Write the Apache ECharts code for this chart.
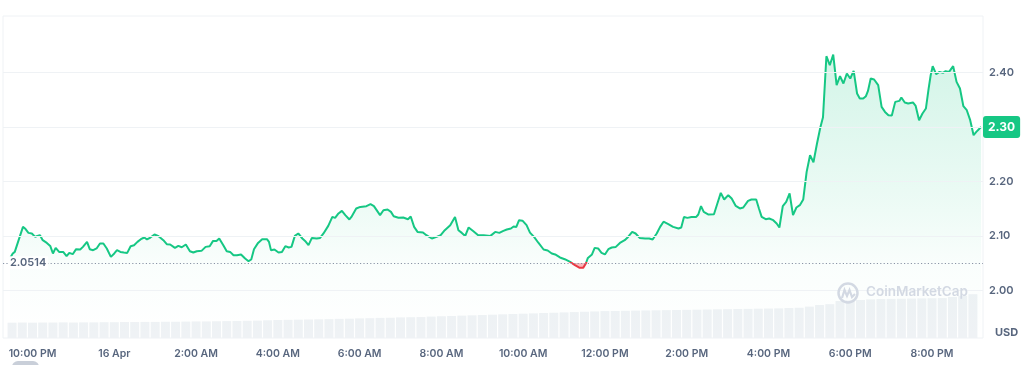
<!DOCTYPE html>
<html><head><meta charset="utf-8">
<script src="https://cdn.jsdelivr.net/npm/echarts@6/dist/echarts.min.js"></script>
<style>html,body{margin:0;padding:0;background:#fff}#c{width:1035px;height:365px}</style>
</head><body><div id="c"></div>
<script>
// time in minutes after 10:00 PM (15 Apr)
const priceTimes = [-33,-29,-26,-14,-11,-6,-1,4,7,11,15,21,26,30,34,39,45,50,54,59,64,70,74,80,84,89,94,99,104,109,115,120,124,129,134,139,144,149,154,159,164,168,173,179,185,192,197,202,209,214,219,225,231,236,241,248,254,260,265,270,274,280,285,290,295,300,306,312,317,321,325,331,337,344,347,350,355,361,366,371,376,380,385,390,396,400,405,410,417,422,427,434,440,444,449,454,459,465,468,475,481,490,496,501,510,515,521,526,530,537,544,551,555,560,565,573,578,586,593,599,605,613,620,625,630,635,640,647,654,662,672,679,685,691,696,702,706,710,714,719,725,730,736,742,750,756,762,767,774,781,789,796,803,808,812,815,821,825,830,835,840,845,850,856,862,869,874,880,885,891,899,905,910,916,921,926,933,940,948,952,956,961,967,974,977,981,985,992,1000,1005,1010,1015,1021,1026,1032,1038,1043,1050,1055,1062,1066,1070,1076,1081,1087,1092,1096,1101,1106,1111,1116,1121,1126,1131,1136,1141,1146,1151,1156,1160,1165,1170,1175,1180,1185,1190,1195,1200,1205,1210,1214,1219,1223,1226,1230,1235,1241,1246,1251,1256,1261,1266,1272,1275,1280,1285,1292,1296,1301,1306,1311,1315,1318,1321,1326,1331,1336,1340,1345,1351,1356,1361,1366,1371,1376,1381,1385,1392];
const priceValues = [2.0593,2.0679,2.0708,2.1167,2.1138,2.1057,2.1046,2.0983,2.1002,2.1015,2.0923,2.0873,2.0818,2.0679,2.0782,2.0708,2.0708,2.0629,2.0690,2.0666,2.0758,2.0752,2.0800,2.0892,2.0758,2.0739,2.0771,2.0862,2.0862,2.0771,2.0617,2.0679,2.0739,2.0708,2.0697,2.0690,2.0813,2.0831,2.0892,2.0941,2.0972,2.0936,2.0972,2.1028,2.0996,2.0923,2.0850,2.0844,2.0782,2.0818,2.0794,2.0844,2.0721,2.0697,2.0721,2.0727,2.0800,2.0813,2.0910,2.0910,2.0954,2.0831,2.0721,2.0708,2.0648,2.0648,2.0661,2.0587,2.0538,2.0569,2.0758,2.0873,2.0941,2.0941,2.0892,2.0739,2.0752,2.0697,2.0708,2.0813,2.0789,2.0800,2.1002,2.1046,2.0954,2.0910,2.0831,2.0965,2.0954,2.0965,2.1046,2.1185,2.1350,2.1332,2.1413,2.1461,2.1382,2.1303,2.1350,2.1505,2.1534,2.1547,2.1583,2.1547,2.1382,2.1473,2.1486,2.1442,2.1363,2.1336,2.1339,2.1308,2.1358,2.1167,2.1075,2.1064,2.1015,2.0954,2.0983,2.1015,2.1106,2.1198,2.1350,2.1106,2.1057,2.1002,2.1156,2.1088,2.1015,2.1015,2.1002,2.1075,2.1057,2.1094,2.1119,2.1138,2.1174,2.1167,2.1290,2.1281,2.1198,2.1061,2.0983,2.0881,2.0752,2.0734,2.0679,2.0661,2.0606,2.0574,2.0525,2.0464,2.0415,2.0415,2.0495,2.0598,2.0661,2.0782,2.0771,2.0690,2.0661,2.0758,2.0789,2.0800,2.0873,2.0923,2.0983,2.1075,2.1046,2.0965,2.0954,2.0954,2.0936,2.1046,2.1167,2.1262,2.1217,2.1167,2.1138,2.1156,2.1350,2.1332,2.1350,2.1350,2.1394,2.1547,2.1442,2.1394,2.1400,2.1596,2.1791,2.1670,2.1749,2.1688,2.1552,2.1505,2.1523,2.1644,2.1670,2.1670,2.1505,2.1350,2.1308,2.1321,2.1290,2.1229,2.1156,2.1547,2.1626,2.1780,2.1382,2.1523,2.1565,2.1670,2.2176,2.2483,2.2354,2.2684,2.2987,2.3180,2.4299,2.4134,2.4330,2.3767,2.3932,2.3798,2.3982,2.3890,2.4029,2.3615,2.3523,2.3523,2.3565,2.3662,2.3890,2.3872,2.3767,2.3369,2.3277,2.3217,2.3211,2.3461,2.3479,2.3541,2.3450,2.3431,2.3450,2.3387,2.3125,2.3248,2.3339,2.3706,2.3950,2.4116,2.3969,2.4011,2.3993,2.4024,2.4011,2.4116,2.3828,2.3706,2.3382,2.3308,2.3125,2.2850,2.2910,2.3000];
const baselinePrice = 2.0514;
const lastPriceLabel = '2.30';
// volume (billions USD), one bar each 15 minutes starting 9:30 PM
const volumeStart = -30, volumeStep = 15;
const volumeValues = [0.95,0.96,0.95,0.96,0.96,0.97,0.96,0.97,0.97,0.98,0.98,0.99,0.99,1.00,
1.00,1.01,1.01,1.02,1.03,1.03,1.04,1.05,1.06,1.07,1.08,
1.10,1.12,1.13,1.14,1.15,1.16,1.17,
1.19,1.20,1.22,1.23,1.25,1.26,1.28,1.29,1.30,
1.33,1.35,1.37,1.39,1.41,1.43,1.45,1.47,
1.49,1.51,1.53,1.55,1.57,1.59,1.61,1.63,1.65,1.67,
1.68,1.69,1.70,1.71,1.72,1.73,1.74,1.75,1.76,
1.77,1.78,1.79,1.80,1.81,1.82,1.83,1.84,1.86,1.88,
1.95,2.05,2.10,2.30,2.33,2.36,
2.40,2.42,2.43,2.44,2.45,2.46,2.47,2.48,2.55,2.62,2.72];
const xTickValues = [0,120,240,360,480,600,720,840,960,1080,1200,1320];
const xTickLabels = ['10:00 PM','16 Apr','2:00 AM','4:00 AM','6:00 AM','8:00 AM','10:00 AM','12:00 PM','2:00 PM','4:00 PM','6:00 PM','8:00 PM'];
const yTickValues = [2.0,2.1,2.2,2.3,2.4];

const priceData = priceTimes.map((t,i)=>[t, priceValues[i]]);
const volumeData = volumeValues.map((v,i)=>[volumeStart + i*volumeStep, v]);
const FONT = 'Inter, "Noto Sans", sans-serif';
const axisColor = '#58667e';
const redEdge = baselinePrice - 0.0006;

const chart = echarts.init(document.getElementById('c'), null, {renderer:'canvas'});
chart.setOption({
  animation:false,
  backgroundColor:'#fff',
  grid:{left:3,right:52,top:16,bottom:27,show:true,borderColor:'#eff2f5',borderWidth:1},
  xAxis:{type:'value',min:-43.3,max:1394.8,
    axisLine:{show:false},axisTick:{show:false},splitLine:{show:false},
    axisLabel:{customValues:xTickValues,
      formatter:v=>{const i=xTickValues.indexOf(v);return i>=0?xTickLabels[i]:'';},
      color:axisColor,fontSize:10.5,fontWeight:600,fontFamily:FONT,margin:10}},
  yAxis:[
    {type:'value',position:'right',min:1.9128,max:2.5037,
     axisLine:{show:false},axisTick:{show:false},splitLine:{show:false},
     axisLabel:{customValues:yTickValues,
       formatter:v=>yTickValues.some(t=>Math.abs(t-v)<1e-6)?v.toFixed(2):'',
       color:axisColor,fontSize:11,fontWeight:600,fontFamily:FONT,margin:6}},
    {type:'value',min:0,max:20,show:false,splitLine:{show:false}}
  ],
  visualMap:[
    {type:'piecewise',show:false,seriesIndex:0,dimension:1,
     pieces:[{gt:0,lte:baselinePrice,color:'#ea3943'},{gt:baselinePrice,lte:100,color:'#16c784'}]},
    {type:'piecewise',show:false,seriesIndex:1,dimension:1,
     pieces:[{gt:0,lte:redEdge,color:'rgba(234,57,67,0.35)'},{gt:redEdge,lte:100,color:'rgba(234,57,67,0)'}]}
  ],
  series:[
    {type:'line',data:priceData,symbol:'none',showSymbol:false,z:4,
     lineStyle:{width:2},
     areaStyle:{origin:'start',color:new echarts.graphic.LinearGradient(0,0,0,1,[
       {offset:0,color:'rgba(22,199,132,0.27)'},
       {offset:0.5,color:'rgba(22,199,132,0.12)'},
       {offset:0.75,color:'rgba(22,199,132,0.03)'},
       {offset:1,color:'rgba(22,199,132,0)'}])}},
    {type:'line',data:priceData,symbol:'none',showSymbol:false,z:3,silent:true,
     lineStyle:{width:0,opacity:0},
     areaStyle:{origin:baselinePrice,opacity:1}},
    {type:'bar',data:volumeData,yAxisIndex:1,barWidth:9,silent:true,z:1,
     itemStyle:{color:'#eff2f5'}},
    {type:'line',data:priceData,symbol:'none',showSymbol:false,silent:true,z:5,
     itemStyle:{color:'#8a94a6'},lineStyle:{width:0,color:'rgba(0,0,0,0)'},
     markLine:{silent:true,symbol:'none',animation:false,
       data:[
        ...yTickValues.map(v=>({yAxis:v,lineStyle:{type:'solid',color:'#eff2f5',width:1},label:{show:false}})),
        {yAxis:baselinePrice,
         lineStyle:{type:[1.2,2.2],color:'#8a94a6',width:1},
         label:{show:true,position:'insideStartBottom',distance:[5,-7],
           formatter:String(baselinePrice),color:axisColor,fontSize:11,fontWeight:600,fontFamily:FONT,
           backgroundColor:'#fff',padding:[1,2]}},
        {yAxis:priceValues[priceValues.length-1],
         lineStyle:{width:0,color:'rgba(0,0,0,0)'},
         label:{show:true,position:'end',distance:0,formatter:lastPriceLabel,
           color:'#fff',backgroundColor:'#16c784',fontSize:12,fontWeight:700,fontFamily:FONT,
           padding:[5,5,5,5],borderRadius:3}}
       ]}}
  ],
  graphic:[
    {type:'text',left:995,top:327,style:{text:'USD',fill:axisColor,font:'700 11px '+FONT}},
    {type:'circle',shape:{cx:848,cy:293,r:9.5},style:{fill:'none',stroke:'#d3d9e3',lineWidth:2.5},z:10},
    {type:'polyline',shape:{points:[[842,298],[844.5,290],[847,296],[849.5,290],[852,297],[855,294]]},style:{fill:'none',stroke:'#d3d9e3',lineWidth:2.2},z:10},
    {type:'text',left:866,top:285,z:10,style:{text:'CoinMarketCap',fill:'#d3d9e3',font:'600 13.5px '+FONT}},
    {type:'rect',shape:{x:12,y:361,width:27,height:12,r:6},style:{fill:'#c9cfd9'}}
  ]
});
</script></body></html>
